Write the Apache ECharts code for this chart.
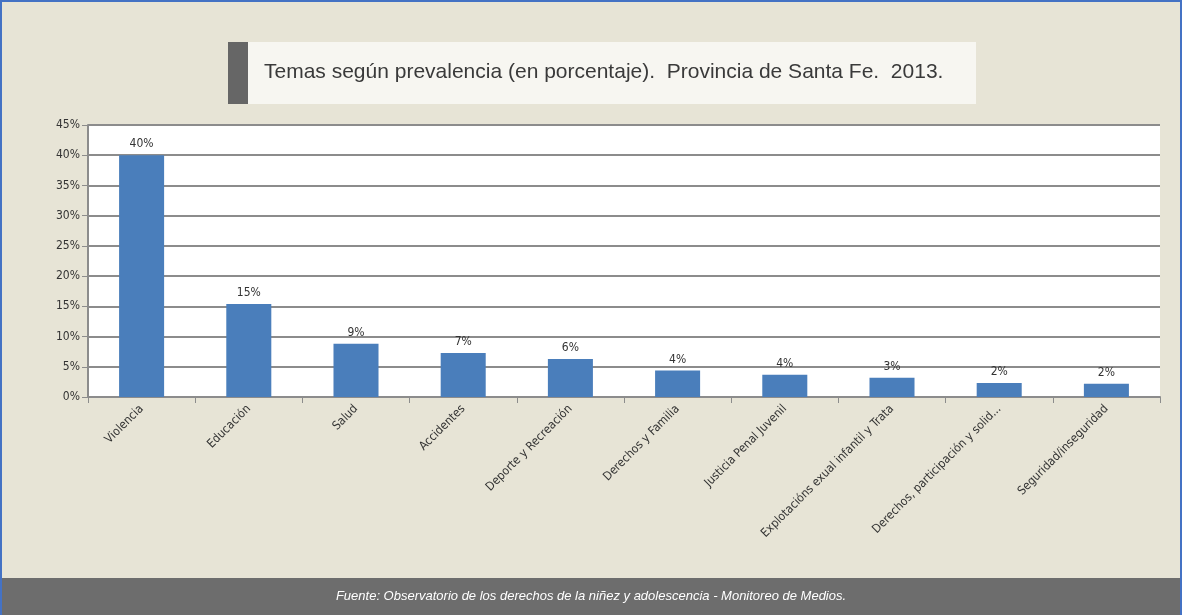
<!DOCTYPE html>
<html>
<head>
<meta charset="utf-8">
<script src="https://cdn.jsdelivr.net/npm/echarts@6/dist/echarts.min.js"></script>
<style>
html,body{margin:0;padding:0;background:#e7e4d6;}
#chart{width:1178px;height:613px;border-top:2px solid #4472c4;border-left:2px solid #4472c4;border-right:2px solid #4472c4;}
</style>
</head>
<body>
<div id="chart"></div>
<script>
// categorías y porcentajes
var temas = ['Violencia','Educación','Salud','Accidentes','Deporte y Recreación','Derechos y Familia',
	'Justicia Penal Juvenil','Explotacións exual infantil y Trata','Derechos, participación y solid...','Seguridad/inseguridad'];
var porcentajes = [40.0, 15.4, 8.8, 7.3, 6.3, 4.4, 3.7, 3.2, 2.3, 2.2];
var ticksY = [0,5,10,15,20,25,30,35,40,45];

var fuente = 'Fuente: Observatorio de los derechos de la niñez y adolescencia - Monitoreo de Medios.';
var titulo = 'Temas según prevalencia (en porcentaje).  Provincia de Santa Fe.  2013.';

var chart = echarts.init(document.getElementById('chart'));
var option = {
	backgroundColor: '#e7e4d6',
	animation: false,
	textStyle: {fontFamily: 'DejaVu Sans Condensed, Liberation Sans, sans-serif'},
	graphic: [
		{type:'rect', left:226, top:40, shape:{width:748, height:62}, style:{fill:'#f7f6f1'}},
		{type:'rect', left:226, top:40, shape:{width:20, height:62}, style:{fill:'#666666'}},
		{type:'text', left:262, top:60, style:{text:titulo, fill:'#3a3a3a', font:'21px "Liberation Sans", sans-serif'}},
		{type:'rect', left:0, top:576, shape:{width:1178, height:37}, style:{fill:'#6d6d6d'}},
		{type:'text', left:'center', top:588, style:{text:fuente, fill:'#ffffff', font:'italic 13px "Liberation Sans", sans-serif'}}
	],
	grid: {left:86, right:20, top:123, bottom:218, containLabel:false, show:true, backgroundColor:'#ffffff', borderWidth:0},
	xAxis: {
		type:'category',
		data: temas,
		axisLine:{lineStyle:{color:'#8c8c8c', width:2}},
		axisTick:{show:true, length:6, lineStyle:{color:'#8c8c8c'}},
		axisLabel:{rotate:45, color:'#333', fontSize:12, margin:10, interval:0}
	},
	yAxis: {
		type:'value', min:ticksY[0], max:ticksY[ticksY.length-1], interval:5,
		axisLine:{show:true, lineStyle:{color:'#8c8c8c', width:2}},
		axisTick:{show:true, length:6, lineStyle:{color:'#8c8c8c'}},
		axisLabel:{color:'#333', fontSize:12, formatter:'{value}%'},
		splitLine:{lineStyle:{color:'#8c8c8c', width:2}}
	},
	series: [{
		type:'bar',
		data: porcentajes,
		barWidth:'42%',
		itemStyle:{color:'#4a7ebb'},
		label:{show:true, position:'top', color:'#333', fontSize:12,
			formatter:function(p){return Math.round(p.value)+'%';}}
	}]
};
chart.setOption(option);
window.onresize = chart.resize;
</script>
</body>
</html>
